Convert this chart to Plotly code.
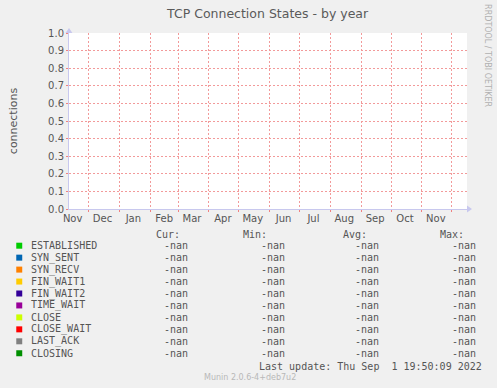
import math
import pandas as pd
import plotly.graph_objects as go

# ---------------- data ----------------
title = "TCP Connection States - by year"
y_title = "connections"
x_start = "2021-11-11 08:00"
x_end = "2022-12-16 08:00"
month_labels = ["Nov", "Dec", "Jan", "Feb", "Mar", "Apr", "May", "Jun",
                "Jul", "Aug", "Sep", "Oct", "Nov"]
month_label_dates = ["2021-11-15", "2021-12-15", "2022-01-15", "2022-02-15",
                     "2022-03-15", "2022-04-15", "2022-05-15", "2022-06-15",
                     "2022-07-15", "2022-08-15", "2022-09-15", "2022-10-15",
                     "2022-11-15"]
y_ticks = [0.0, 0.1, 0.2, 0.3, 0.4, 0.5, 0.6, 0.7, 0.8, 0.9, 1.0]
series = ["ESTABLISHED", "SYN_SENT", "SYN_RECV", "FIN_WAIT1", "FIN_WAIT2",
          "TIME_WAIT", "CLOSE", "CLOSE_WAIT", "LAST_ACK", "CLOSING"]
colors = ["#00CC00", "#0066B3", "#FF8000", "#FFCC00", "#330099",
          "#990099", "#CCFF00", "#FF0000", "#808080", "#008F00"]
cur = [math.nan] * 10
vmin = [math.nan] * 10
vavg = [math.nan] * 10
vmax = [math.nan] * 10
last_update = "Last update: Thu Sep  1 19:50:09 2022"
watermark = "RRDTOOL / TOBI OETIKER"
footer = "Munin 2.0.6-4+deb7u2"

# ---------------- layout geometry ----------------
W, H = 497, 388
L, R, T, B = 67, 467, 33, 209
PW, PH = R - L, B - T


def px(x):
    return (x - L) / PW


def py(y):
    return (B - y) / PH


def fmt(v):
    return "-nan" if (v is None or (isinstance(v, float) and math.isnan(v))) else f"{v:.2f}"


fig = go.Figure()

# one (empty) line per series
times = pd.date_range(x_start, x_end, periods=50)
for name, col in zip(series, colors):
    fig.add_trace(go.Scatter(x=times, y=[math.nan] * len(times), mode="lines",
                             line=dict(color=col, width=1), name=name,
                             showlegend=False))

grid_col = "#F29A9A"
text_col = "#555555"
mono = "DejaVu Sans Mono"

fig.update_layout(
    width=W, height=H,
    margin=dict(l=L, r=W - R, t=T, b=H - B, pad=0),
    paper_bgcolor="#F0F0F0", plot_bgcolor="#FFFFFF",
    showlegend=False,
    font=dict(family="DejaVu Sans", color=text_col, size=10),
    title=dict(text=title, x=248 / W, xanchor="center", xref="paper",
               y=1 - 14 / H, yanchor="middle", yref="container",
               font=dict(family="DejaVu Sans", size=12.5, color="#5a5a5a")),
)

fig.update_xaxes(
    type="date", range=[x_start, x_end],
    tickvals=month_label_dates, ticktext=month_labels,
    ticks="", showgrid=False, tickfont=dict(size=10, color=text_col),
    showline=True, linecolor="#C8C8EE", linewidth=1,
    zeroline=False, fixedrange=True,
    minor=dict(dtick="M1", tick0="2021-12-01", showgrid=True, gridcolor=grid_col,
               griddash="2px,2px", gridwidth=1, ticks="outside", ticklen=2,
               tickcolor="#F08080"),
)
fig.update_yaxes(
    range=[0, 1], tickvals=y_ticks, tickformat=".1f",
    showgrid=True, gridcolor=grid_col, griddash="2px,2px", gridwidth=1,
    ticks="outside", ticklen=2, tickcolor="#F08080",
    tickfont=dict(size=10, color=text_col),
    showline=True, linecolor="#C8C8EE", linewidth=1, zeroline=False,
    title=dict(text=y_title, font=dict(size=11, color=text_col), standoff=28),
    fixedrange=True,
)

# axis arrows
fig.add_shape(type="path", xref="paper", yref="paper",
              path=f"M {px(467)} {py(205.5)} L {px(472)} {py(209)} L {px(467)} {py(212.5)} Z",
              fillcolor="#C8C8EE", line=dict(width=0))
fig.add_shape(type="path", xref="paper", yref="paper",
              path=f"M {px(63.5)} {py(33)} L {px(67)} {py(28)} L {px(70.5)} {py(33)} Z",
              fillcolor="#C8C8EE", line=dict(width=0))

ann = []
# watermark
ann.append(dict(text=watermark, x=px(488), y=py(56), xref="paper", yref="paper",
                textangle=90, showarrow=False, xanchor="center", yanchor="middle",
                font=dict(family="DejaVu Sans", size=8, color="#B0B0B0")))

# legend header
hdr_y = 234
for txt, xr in [("Cur:", 181), ("Min:", 268), ("Avg:", 369), ("Max:", 466)]:
    ann.append(dict(text=txt, x=px(xr), y=py(hdr_y), xref="paper", yref="paper",
                    showarrow=False, xanchor="right", yanchor="middle",
                    font=dict(family=mono, size=10, color=text_col)))

row0, dy = 245.7, 11.95
for i, (name, col) in enumerate(zip(series, colors)):
    yy = row0 + i * dy
    fig.add_shape(type="rect", xref="paper", yref="paper",
                  x0=px(14), x1=px(20), y0=py(yy - 3), y1=py(yy + 3),
                  fillcolor=col, line=dict(width=0))
    ann.append(dict(text=name, x=px(26.5), y=py(yy), xref="paper", yref="paper",
                    showarrow=False, xanchor="left", yanchor="middle",
                    font=dict(family=mono, size=10, color=text_col)))
    for vals, xr in [(cur, 188.5), (vmin, 286), (vavg, 381), (vmax, 478)]:
        ann.append(dict(text=fmt(vals[i]), x=px(xr), y=py(yy), xref="paper",
                        yref="paper", showarrow=False, xanchor="right",
                        yanchor="middle",
                        font=dict(family=mono, size=10, color=text_col)))

ann.append(dict(text=last_update.replace(" ", "\u00a0"), x=px(484), y=py(366),
                xref="paper", yref="paper", showarrow=False, xanchor="right",
                yanchor="middle", font=dict(family=mono, size=10, color=text_col)))
ann.append(dict(text=footer, x=px(249), y=py(377.5), xref="paper", yref="paper",
                showarrow=False, xanchor="center", yanchor="middle",
                font=dict(family="DejaVu Sans", size=8, color="#B8B8B8")))

fig.update_layout(annotations=ann)
fig.write_html("out.html")
